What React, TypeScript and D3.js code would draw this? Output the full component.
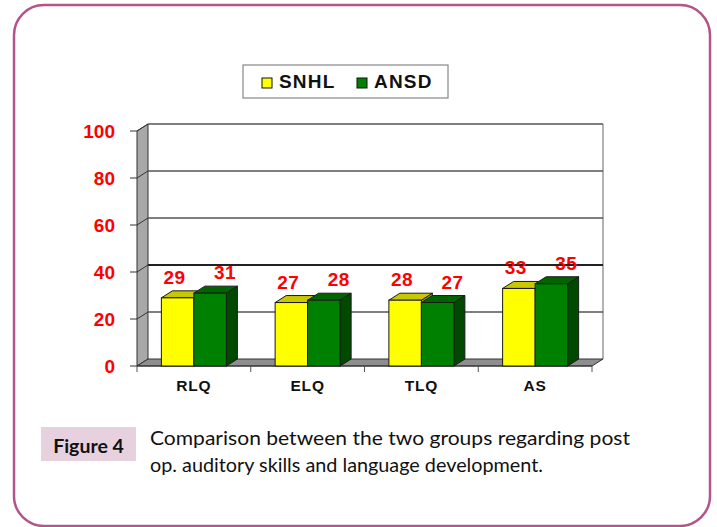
import { useRef, useEffect } from "react";
import * as d3 from "d3";

const categories = ["RLQ", "ELQ", "TLQ", "AS"];
const seriesNames = ["SNHL", "ANSD"];
const snhl = [29, 27, 28, 33];
const ansd = [31, 28, 27, 35];
const yTicks = [0, 20, 40, 60, 80, 100];

const frontColors = ["#ffff00", "#008000"];
const topColors = ["#c8c800", "#006400"];
const sideColors = ["#9a9a00", "#004a00"];

const FONT = "'Liberation Sans', Arial, sans-serif";

export default function App() {
  const gRef = useRef(null);

  useEffect(() => {
    const g = d3.select(gRef.current);
    g.selectAll("*").remove();

    const dx = 11;
    const dy = -7;

    const x = d3.scaleBand().domain(categories).range([137, 592]).paddingInner(0).paddingOuter(0);
    const x1 = d3.scaleBand().domain(seriesNames).range([0, x.bandwidth()]).paddingInner(0).paddingOuter(0.75);
    const y = d3.scaleLinear().domain([0, 100]).range([366, 131]);

    const x0 = x.range()[0];
    const xEnd = x.range()[1];
    const pts = (arr: number[][]) => arr.map((p) => p.join(",")).join(" ");

    // left wall
    g.append("polygon")
      .attr("points", pts([[x0, y(100)], [x0 + dx, y(100) + dy], [x0 + dx, y(0) + dy], [x0, y(0)]]))
      .attr("fill", "#a8a8a8")
      .attr("stroke", "#333")
      .attr("stroke-width", 1);

    // back wall right edge
    g.append("line")
      .attr("x1", xEnd + dx).attr("x2", xEnd + dx)
      .attr("y1", y(100) + dy).attr("y2", y(0) + dy)
      .attr("stroke", "#999").attr("stroke-width", 1.5);

    // floor
    g.append("polygon")
      .attr("points", pts([[x0, y(0)], [xEnd, y(0)], [xEnd + dx, y(0) + dy], [x0 + dx, y(0) + dy]]))
      .attr("fill", "#8e8e8e")
      .attr("stroke", "#333")
      .attr("stroke-width", 1);

    // gridlines
    yTicks.filter((t) => t > 0).forEach((t) => {
      const strong = t === 40;
      g.append("line")
        .attr("x1", x0).attr("y1", y(t))
        .attr("x2", x0 + dx).attr("y2", y(t) + dy)
        .attr("stroke", "#333").attr("stroke-width", 1);
      g.append("line")
        .attr("x1", x0 + dx).attr("x2", xEnd + dx)
        .attr("y1", y(t) + dy).attr("y2", y(t) + dy)
        .attr("stroke", strong ? "#222" : "#555")
        .attr("stroke-width", strong ? 2 : 1.3);
    });

    // y ticks + labels
    yTicks.forEach((t) => {
      g.append("line")
        .attr("x1", x0 - 7).attr("x2", x0)
        .attr("y1", y(t)).attr("y2", y(t))
        .attr("stroke", "#333");
      g.append("text")
        .attr("x", 115)
        .attr("y", y(t))
        .attr("dy", "0.36em")
        .attr("text-anchor", "end")
        .attr("font-family", FONT)
        .attr("font-weight", "bold")
        .attr("font-size", 19)
        .attr("fill", "#ff0000")
        .text(t);
    });

    // x axis
    g.append("line")
      .attr("x1", x0).attr("x2", xEnd)
      .attr("y1", y(0)).attr("y2", y(0))
      .attr("stroke", "#333");
    const bounds = categories.map((c) => x(c) as number).concat([xEnd]);
    bounds.forEach((bx) => {
      g.append("line")
        .attr("x1", bx).attr("x2", bx)
        .attr("y1", y(0)).attr("y2", y(0) + 6)
        .attr("stroke", "#555");
    });
    categories.forEach((c) => {
      g.append("text")
        .attr("x", (x(c) as number) + x.bandwidth() / 2)
        .attr("y", 391)
        .attr("text-anchor", "middle")
        .attr("font-family", FONT)
        .attr("font-weight", "bold")
        .attr("font-size", 15.5)
        .attr("letter-spacing", 0.8)
        .attr("fill", "#111")
        .text(c);
    });

    // bars
    const series = [snhl, ansd];
    categories.forEach((c, i) => {
      series.forEach((vals, s) => {
        const v = vals[i];
        const bx = (x(c) as number) + (x1(seriesNames[s]) as number);
        const bw = x1.bandwidth();
        const top = y(v);
        const bottom = y(0);
        g.append("polygon")
          .attr("points", pts([[bx + bw, top], [bx + bw + dx, top + dy], [bx + bw + dx, bottom + dy], [bx + bw, bottom]]))
          .attr("fill", sideColors[s]).attr("stroke", "#1a1a1a").attr("stroke-width", 1);
        g.append("polygon")
          .attr("points", pts([[bx, top], [bx + dx, top + dy], [bx + bw + dx, top + dy], [bx + bw, top]]))
          .attr("fill", topColors[s]).attr("stroke", "#1a1a1a").attr("stroke-width", 1);
        g.append("rect")
          .attr("x", bx).attr("y", top)
          .attr("width", bw).attr("height", bottom - top)
          .attr("fill", frontColors[s]).attr("stroke", "#1a1a1a").attr("stroke-width", 1);
      });
    });

    // value labels
    categories.forEach((c, i) => {
      series.forEach((vals, s) => {
        const v = vals[i];
        const bx = (x(c) as number) + (x1(seriesNames[s]) as number) + x1.bandwidth() / 2;
        g.append("text")
          .attr("x", bx + (s === 0 ? -3 : 15))
          .attr("y", y(v) - 14)
          .attr("text-anchor", "middle")
          .attr("font-family", FONT)
          .attr("font-weight", "bold")
          .attr("font-size", 19)
          .attr("letter-spacing", 0.6)
          .attr("fill", "#ff0000")
          .text(v);
      });
    });

    // legend
    const leg = g.append("g");
    leg.append("rect")
      .attr("x", 243).attr("y", 65).attr("width", 205).attr("height", 33)
      .attr("fill", "#fff").attr("stroke", "#888").attr("stroke-width", 1.2);
    const legX = [262, 357];
    seriesNames.forEach((name, s) => {
      leg.append("rect")
        .attr("x", legX[s]).attr("y", 78).attr("width", 10).attr("height", 10)
        .attr("fill", frontColors[s]).attr("stroke", "#111").attr("stroke-width", 1);
      leg.append("text")
        .attr("x", legX[s] + 17).attr("y", 88)
        .attr("font-family", FONT)
        .attr("font-weight", "bold")
        .attr("font-size", 19)
        .attr("letter-spacing", 1.2)
        .attr("fill", "#111")
        .text(name);
    });
  }, []);

  return (
    <svg width={717} height={527} style={{ position: "absolute", left: 0, top: 0, background: "#fff" }}>
      <rect x={14} y={5} width={696} height={521} rx={30} ry={30} fill="#fff" stroke="#b4548a" strokeWidth={2.5} />
      <g ref={gRef}></g>
      <rect x={41} y={427} width={95} height={34} fill="#e8d1df" />
      <text x={88.5} y={453} textAnchor="middle" fontFamily="Lato, 'Open Sans', sans-serif" fontWeight="bold" fontSize={19.5} fill="#111">
        Figure 4
      </text>
      <text x={150} y={445} fontFamily="Lato, 'Open Sans', sans-serif" fontSize={20} fill="#111" textLength={480} lengthAdjust="spacingAndGlyphs">
        Comparison between the two groups regarding post
      </text>
      <text x={150} y={472} fontFamily="Lato, 'Open Sans', sans-serif" fontSize={20} fill="#111" textLength={393} lengthAdjust="spacingAndGlyphs">
        op. auditory skills and language development.
      </text>
    </svg>
  );
}
